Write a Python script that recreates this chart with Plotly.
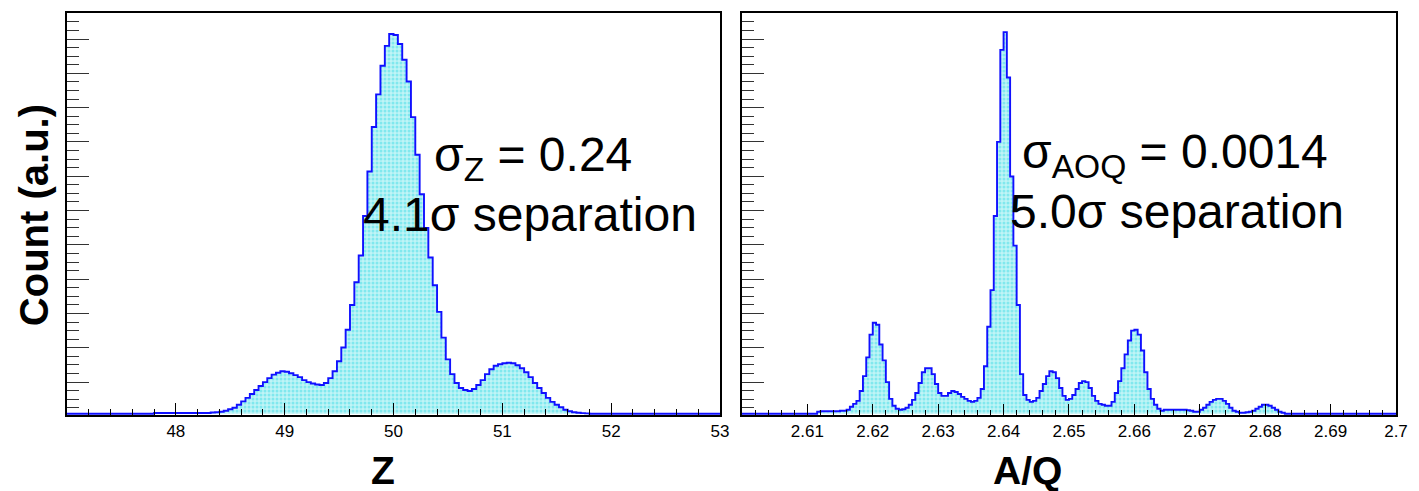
import plotly.graph_objects as go

# ---- Z spectrum: bin contents (a.u.), 0.04-wide bins starting at Z = 47.80 ----
z_first_edge = 47.80
z_bin_width = 0.04
z_counts = [
    0.7, 0.7, 0.7, 0.7, 0.7, 0.7, 0.7, 0.7, 0.7, 0.7, 0.7, 0.7, 0.7,
    1.2, 1.5, 2, 3, 4.5, 6, 9, 12.5, 16, 20, 24, 28, 32, 36, 39.5, 41.5,
    43, 42.5, 41, 39, 37, 34, 32, 30.5, 29.5, 29, 31, 36, 43, 53, 67, 85,
    110, 133, 160, 200, 245, 290, 323, 352, 372, 384, 383, 374, 358, 336,
    300, 262, 222, 188, 158, 130, 103, 77, 55, 40, 31, 26, 24, 23, 25, 29,
    34, 40, 45, 48.5, 50, 51, 51.5, 51, 49, 46, 42, 37, 31, 26, 21, 16, 12,
    9, 6.5, 4, 2.5, 1.5, 1, 0.6, 0.3,
]

# ---- A/Q spectrum: bin contents (a.u.), 0.0005-wide bins starting at 2.6115 ----
aq_first_edge = 2.6115
aq_bin_width = 0.0005
aq_counts = [
    2, 2.5, 2.5, 2.5, 2.5, 2.5, 2.5, 3, 3, 4, 7, 10, 13, 23, 38, 57, 80, 92,
    90, 70, 54, 32, 15, 8, 5, 4, 4.5, 6, 9, 14, 21, 31, 42, 46, 46, 40, 30,
    21, 18, 18, 21, 23, 22, 20, 17, 15, 13, 12, 13, 16, 25, 48, 88, 125, 200,
    275, 368, 386, 340, 240, 170, 110, 40, 19, 14, 12, 13, 16, 23, 30, 38, 43,
    42, 36, 26, 18, 14, 15, 19, 25, 31, 33, 32, 26, 18, 13, 10, 9, 8, 8, 12,
    21, 33, 46, 60, 74, 84, 85, 80, 64, 42, 25, 15, 9, 5, 3, 4, 4, 4, 4, 4,
    4, 4, 3.5, 3, 2, 2, 4, 6, 9, 12, 14, 15, 15, 13, 10, 6, 3, 2, 1, 1, 1.5,
    2, 3, 5, 7, 9, 9, 8, 6, 4, 2, 1,
]

z_range = [47, 53]
aq_range = [2.60, 2.70]
z_ticks = [48, 49, 50, 51, 52, 53]
z_ticktext = ["48", "49", "50", "51", "52", "53"]
aq_ticks = [2.61, 2.62, 2.63, 2.64, 2.65, 2.66, 2.67, 2.68, 2.69, 2.70]
aq_ticktext = ["2.61", "2.62", "2.63", "2.64", "2.65", "2.66", "2.67",
               "2.68", "2.69", "2.7"]

y_top = 1.05 * max(max(z_counts), max(aq_counts))

FONT = "Liberation Sans, Arial, Helvetica, sans-serif"
LINE_BLUE = "#1010ff"


def step_path(first_edge, width, counts, lo, hi):
    """Histogram outline: zero outside the filled bins, across the full axis."""
    xs = [lo]
    ys = [0]
    for i, c in enumerate(counts):
        xs.append(first_edge + i * width)
        ys.append(c)
    xs.append(first_edge + len(counts) * width)
    ys.append(0)
    xs.append(hi)
    ys.append(0)
    return xs, ys


fig = go.Figure()

zx, zy = step_path(z_first_edge, z_bin_width, z_counts, *z_range)
ax, ay = step_path(aq_first_edge, aq_bin_width, aq_counts, *aq_range)

hist_fill = dict(shape=".", bgcolor="#c0f4f6", fgcolor="#40dce6",
                 size=4, solidity=0.45)

for xs, ys, xa, ya in [(zx, zy, "x", "y"), (ax, ay, "x2", "y2")]:
    fig.add_trace(go.Scatter(
        x=xs, y=ys, xaxis=xa, yaxis=ya,
        mode="lines", line=dict(color=LINE_BLUE, width=1.9, shape="hv"),
        fill="tozeroy", fillpattern=hist_fill, fillcolor="#c0f4f6",
        hoverinfo="skip", showlegend=False,
    ))

L, R, T, B = 67, 17, 11, 76
W, H = 1419, 491
pw = W - L - R
ph = H - T - B


def px_x(px):
    return (px - L) / pw


def px_y(py):
    return (H - B - py) / ph


common_x = dict(
    showline=True, linecolor="black", linewidth=2, mirror=True,
    ticks="inside", tickcolor="black", tickwidth=1.3,
    showgrid=False, zeroline=False,
    tickfont=dict(family=FONT, size=17, color="black"),
)
common_y = dict(
    showline=True, linecolor="black", linewidth=2, mirror=True,
    ticks="inside", tickcolor="#333333", tickwidth=1.3, ticklen=22,
    tick0=32, dtick=34.7,
    minor=dict(ticks="inside", ticklen=12, tick0=32, dtick=8.675,
               tickcolor="#333333", tickwidth=1.2, showgrid=False),
    showticklabels=False, showgrid=False, zeroline=False,
    range=[-1.3, y_top],
)

fig.update_layout(
    width=W, height=H,
    margin=dict(l=L, r=R, t=T, b=B),
    paper_bgcolor="white", plot_bgcolor="white",
    font=dict(family=FONT, color="black"),
    xaxis=dict(domain=[0, px_x(723)], range=z_range,
               tickvals=z_ticks, ticktext=z_ticktext, ticklen=12,
               minor=dict(ticks="inside", ticklen=6, dtick=0.2, tick0=47,
                          tickcolor="black", tickwidth=1.2, showgrid=False),
               anchor="y", **common_x),
    xaxis2=dict(domain=[px_x(745), 1], range=aq_range,
                tickvals=aq_ticks, ticktext=aq_ticktext, ticklen=11,
                minor=dict(ticks="inside", ticklen=5, dtick=0.002, tick0=2.60,
                           tickcolor="black", tickwidth=1.2, showgrid=False),
                anchor="y2", **common_x),
    yaxis=dict(domain=[0, 1], anchor="x", **common_y),
    yaxis2=dict(domain=[0, 1], anchor="x2", **common_y),
)

big = dict(family=FONT, size=48, color="black")
title_font = dict(family=FONT, size=39, color="black")

annotations = [
    dict(text="σ<sub>Z</sub> = 0.24", x=px_x(535), y=px_y(157), font=big),
    dict(text="4.1σ separation", x=px_x(532), y=px_y(213), font=big),
    dict(text="σ<sub>AOQ</sub> = 0.0014", x=px_x(1180), y=px_y(154), font=big),
    dict(text="5.0σ separation", x=px_x(1182), y=px_y(210), font=big),
    dict(text="<b>Z</b>", x=px_x(384), y=px_y(471), font=title_font),
    dict(text="<b>A/Q</b>", x=px_x(1032), y=px_y(471), font=title_font),
    dict(text="<b>Count (a.u.)</b>", x=px_x(34), y=px_y(214),
         font=dict(family=FONT, size=40, color="black"), textangle=-90),
]
for a in annotations:
    fig.add_annotation(xref="paper", yref="paper", showarrow=False,
                       xanchor="center", yanchor="middle", **a)

fig.write_html("out.html")
